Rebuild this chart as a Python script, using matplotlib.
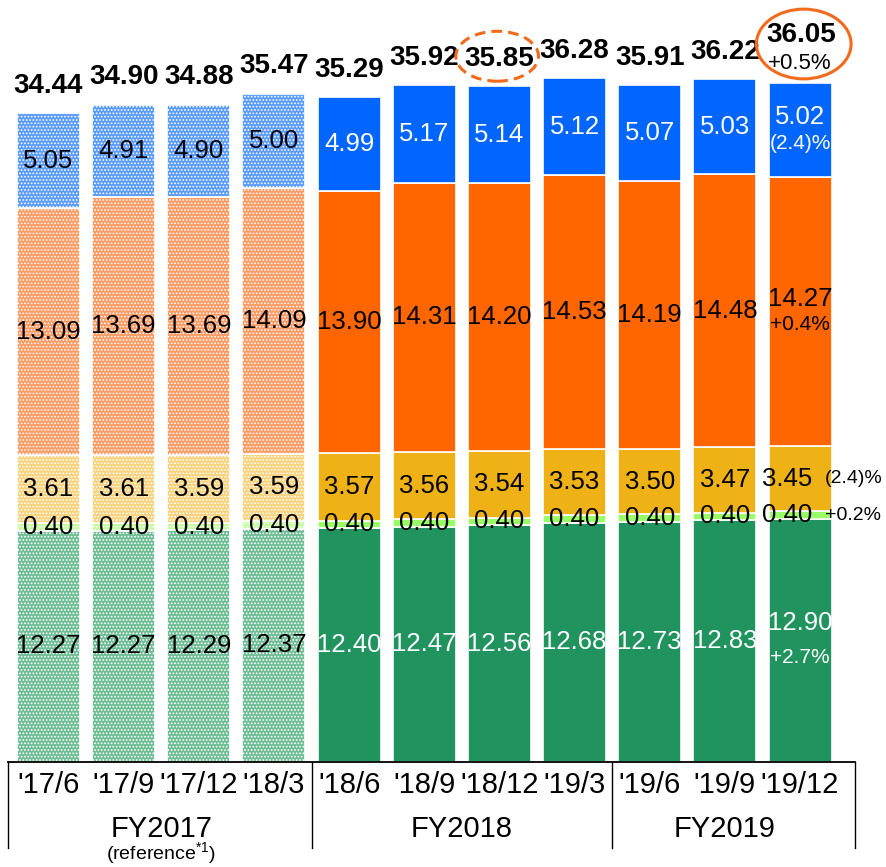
import matplotlib
matplotlib.use("Agg")
import matplotlib.pyplot as plt
from matplotlib.patches import Ellipse
import numpy as np

plt.rcParams['font.family'] = ['Liberation Sans', 'DejaVu Sans']
plt.rcParams['mathtext.fontset'] = 'custom'
plt.rcParams['mathtext.rm'] = 'Liberation Sans'
plt.rcParams['hatch.linewidth'] = 0.8

# ---------------- data ----------------
periods = ["'17/6", "'17/9", "'17/12", "'18/3", "'18/6", "'18/9", "'18/12",
           "'19/3", "'19/6", "'19/9", "'19/12"]
green = [12.27, 12.27, 12.29, 12.37, 12.40, 12.47, 12.56, 12.68, 12.73, 12.83, 12.90]
lightgreen = [0.40, 0.40, 0.40, 0.40, 0.40, 0.40, 0.40, 0.40, 0.40, 0.40, 0.40]
yellow = [3.61, 3.61, 3.59, 3.59, 3.57, 3.56, 3.54, 3.53, 3.50, 3.47, 3.45]
orange = [13.09, 13.69, 13.69, 14.09, 13.90, 14.31, 14.20, 14.53, 14.19, 14.48, 14.27]
blue = [5.05, 4.91, 4.90, 5.00, 4.99, 5.17, 5.14, 5.12, 5.07, 5.03, 5.02]
totals = [34.44, 34.90, 34.88, 35.47, 35.29, 35.92, 35.85, 36.28, 35.91, 36.22, 36.05]
fiscal_years = ["FY2017", "FY2018", "FY2019"]
fy_sizes = [4, 4, 3]
n_reference = 4  # FY2017 bars shown as reference (hatched)

last_changes = {"blue": "(2.4)%", "orange": "+0.4%", "yellow": "(2.4)%",
                "lightgreen": "+0.2%", "green": "+2.7%", "total": "+0.5%"}

# ---------------- styles ----------------
solid_colors = {"green": "#21935F", "lightgreen": "#99FF66", "yellow": "#EEB216",
                "orange": "#FF6600", "blue": "#0066FF"}
light_colors = {"green": "#6EBD95", "lightgreen": "#C4FF9E", "yellow": "#F8D27C",
                "orange": "#FF9A62", "blue": "#5A9BFF"}
solid_text = {"green": "white", "lightgreen": "black", "yellow": "black",
              "orange": "black", "blue": "white"}

series = [("green", green), ("lightgreen", lightgreen), ("yellow", yellow),
          ("orange", orange), ("blue", blue)]

FS_SEG = 18.5
FS_TOT = 20
FS_PCT = 15
FS_AX = 21

fig = plt.figure(figsize=(8.86, 8.67), dpi=100)
W, H = 886, 867
x0_px, step_px = 48.5, 75.15
base_px = 762
ppu = 18.85
ax = fig.add_axes([0, (H - base_px) / H, 1, base_px / H])
ax.set_xlim(-x0_px / step_px, (W - x0_px) / step_px)
ax.set_ylim(0, base_px / ppu)
ax.axis('off')

x = np.arange(len(periods))
bw = 63 / step_px
bottom = np.zeros(len(periods))
n = len(periods)
for name, vals in series:
    vals = np.array(vals)
    for i in range(n):
        ref = i < n_reference
        ax.bar(x[i], vals[i], bottom=bottom[i], width=bw,
               color=light_colors[name] if ref else solid_colors[name],
               edgecolor='white', linewidth=1.2,
               hatch='.....' if ref else None, zorder=2)
    for i in range(n):
        ref = i < n_reference
        col = 'black' if ref else solid_text[name]
        cy = bottom[i] + vals[i] / 2
        if i == n - 1 and name in ("blue", "orange", "green"):
            d = 0.9 if name == "green" else 0.7
            ax.text(x[i], cy + d, f"{vals[i]:.2f}", ha='center', va='center',
                    fontsize=FS_SEG, color=col, zorder=5)
            ax.text(x[i], cy - d, last_changes[name], ha='center', va='center',
                    fontsize=FS_PCT, color=col, zorder=5)
        elif i == n - 1:
            ax.text(x[i] - 0.17, cy, f"{vals[i]:.2f}", ha='center', va='center',
                    fontsize=FS_SEG, color=col, zorder=5)
            ax.text(x[i] + 0.71, cy, last_changes[name], ha='center', va='center',
                    fontsize=14, color='black', zorder=5)
        else:
            ax.text(x[i], cy, f"{vals[i]:.2f}", ha='center', va='center',
                    fontsize=FS_SEG, color=col, zorder=5)
    bottom += vals

# totals
for i in range(n):
    if i == n - 1:
        ax.text(x[i] + 0.02, bottom[i] + 2.55, f"{totals[i]:.2f}", ha='center',
                va='center', fontsize=FS_TOT, fontweight='bold', zorder=5)
        ax.text(x[i], bottom[i] + 1.0, last_changes["total"], ha='center', va='center',
                fontsize=FS_PCT + 1, zorder=5)
    else:
        ax.text(x[i], bottom[i] + 1.45, f"{totals[i]:.2f}", ha='center', va='center',
                fontsize=FS_TOT, fontweight='bold', zorder=5)

# highlight ellipses
ax.add_patch(Ellipse((x[6] - 0.03, bottom[6] + 1.6), 1.10, 2.65, fill=False,
                     edgecolor='#F26A1B', linewidth=2.2, linestyle=(0, (3.5, 2)),
                     zorder=6, clip_on=False))
ax.add_patch(Ellipse((x[10] + 0.05, bottom[10] + 2.05), 1.26, 3.7, fill=False,
                     edgecolor='#F26A1B', linewidth=2.2, zorder=6, clip_on=False))

# category axis
left = -40.5 / step_px
right = (855 - x0_px) / step_px
ybot = -(848 - base_px) / ppu
ax.plot([left, right], [0, 0], color='black', linewidth=1.3, clip_on=False, zorder=3)
seps = [left]
acc = 0
for s in fy_sizes[:-1]:
    acc += s
    seps.append(acc - 0.5)
seps.append(right)
for sx in seps:
    ax.plot([sx, sx], [0, ybot], color='black', linewidth=1.0, clip_on=False)

for i, p in enumerate(periods):
    ax.text(x[i], -(785 - base_px) / ppu, p, ha='center', va='center', fontsize=FS_AX,
            clip_on=False)
start = 0
for fy, s in zip(fiscal_years, fy_sizes):
    cx = np.mean(x[start:start + s])
    ax.text(cx, -(829 - base_px) / ppu, fy, ha='center', va='center', fontsize=FS_AX,
            clip_on=False)
    if start == 0:
        ax.text(cx, -(854 - base_px) / ppu, r"(reference$^{\mathrm{*1}}$)", ha='center',
                va='center', fontsize=14, clip_on=False)
    start += s

fig.savefig("out.png", dpi=100)
